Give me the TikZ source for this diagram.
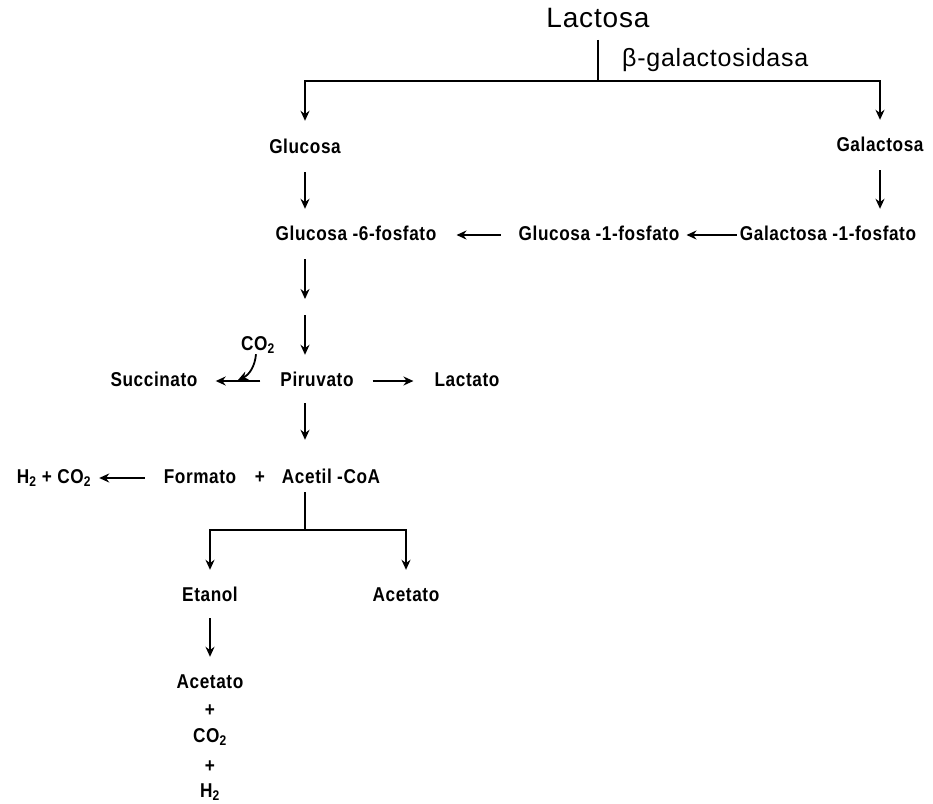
\documentclass[tikz,border=0pt]{standalone}
\usepackage{fontspec}
\setmainfont{Liberation Sans}
\newfontfamily\condfont[FakeStretch=0.86,LetterSpace=3]{Liberation Sans}
\newfontfamily\titlefont[LetterSpace=3]{Liberation Sans}
\usetikzlibrary{arrows.meta}
\tikzset{flow/.style={line width=2.5pt}}
\tikzset{arr/.style={flow, -{Stealth[length=10pt,width=9pt]}}}
\tikzset{vgap/.style={shorten <=15pt, shorten >=17pt}}
\tikzset{met/.style={font=\condfont\bfseries\fontsize{20}{22}\selectfont, inner sep=0pt, text height=14pt, text depth=4pt}}
\tikzset{big/.style={font=\titlefont\fontsize{28}{32}\selectfont, inner sep=0pt}}
\tikzset{enzyme/.style={font=\titlefont\fontsize{25}{28}\selectfont, inner sep=0pt, anchor=west}}

\begin{document}
\begin{tikzpicture}[x=1pt,y=-1pt]
\useasboundingbox (0,0) rectangle (933,803);
% lactose split
\node[big] (lac) at (598,18) {Lactosa};
\node[enzyme] (bgal) at (622,60) {β-galactosidasa};
\coordinate (split) at (598,81);
\node[met] (glu) at (305,148) {Glucosa};
\node[met] (gal) at (880,146) {Galactosa};
\draw[flow] ([yshift=-12pt]lac.south) -- (split);
\draw[arr, shorten >=18pt] (split) -| (glu.north);
\draw[arr, shorten >=17pt] (split) -| (gal.north);
% phosphates
\node[met] (g6p) at (356,235) {Glucosa -6-fosfato};
\node[met] (g1p) at (599,235) {Glucosa -1-fosfato};
\node[met] (gal1p) at (828,235) {Galactosa -1-fosfato};
\draw[arr, vgap] (glu.south) -- (glu |- g6p.north);
\draw[arr, vgap] (gal.south) -- (gal |- gal1p.north);
\draw[arr, shorten <=18pt, shorten >=20pt] (g1p.west) -- (g6p.east);
\draw[arr, shorten <=3pt, shorten >=7pt] (gal1p.west) -- (g1p.east);
% pyruvate
\coordinate (mid) at (305,307);
\node[met] (pir) at (317,381) {Piruvato};
\node[met] (suc) at (154,381) {Succinato};
\node[met] (lact) at (467,381) {Lactato};
\node[met] (co2a) at (258,345) {CO\textsubscript{2}};
\coordinate (hook) at (238,380);
\draw[arr, shorten <=15pt, shorten >=8pt] (glu |- g6p.south) -- (mid);
\draw[arr, shorten <=8pt, shorten >=17pt] (mid) -- (glu |- pir.north);
\draw[arr, shorten <=20pt, shorten >=18pt] (pir.west) -- (suc.east);
\draw[arr, shorten <=19pt, shorten >=21pt] (pir.east) -- (lact.west);
\draw[arr, line width=1.8pt] ([xshift=-2pt]co2a.south) to[out=-95,in=25] (hook);
% formate + acetyl-CoA
\node[met] (form) at (200,478) {Formato};
\node[met] (plus) at (260,478) {+};
\node[met] (acoa) at (331,478) {Acetil -CoA};
\node[met] (h2co2) at (54,478) {H\textsubscript{2} + CO\textsubscript{2}};
\draw[arr, shorten <=13pt, shorten >=29pt] (glu |- pir.south) -- (glu |- acoa.north);
\draw[arr, shorten <=19pt, shorten >=8pt] (form.west) -- (h2co2.east);
% ethanol / acetate
\coordinate (fork) at (305,530);
\node[met] (eta) at (210,596) {Etanol};
\node[met] (ac1) at (406,596) {Acetato};
\draw[flow, shorten <=5pt] (glu |- acoa.south) -- (fork);
\draw[arr, shorten >=17pt] (fork) -| (eta.north);
\draw[arr, shorten >=17pt] (fork) -| (ac1.north);
\node[met] (ac2) at (210,683) {Acetato};
\node[met] (p1) at (210,711) {+};
\node[met] (co2b) at (210,737) {CO\textsubscript{2}};
\node[met] (p2) at (210,767) {+};
\node[met] (h2) at (210,792) {H\textsubscript{2}};
\draw[arr, shorten <=13pt, shorten >=17pt] (eta.south) -- (eta.south |- ac2.north);
\end{tikzpicture}
\end{document}
